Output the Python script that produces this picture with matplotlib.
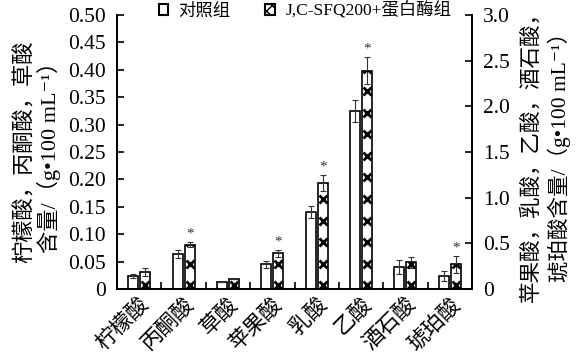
import matplotlib.pyplot as plt
import matplotlib.transforms as mtransforms
import numpy as np
from matplotlib.patches import Patch
from matplotlib.ticker import MultipleLocator, FuncFormatter

plt.rcParams['font.family'] = ['Liberation Serif', 'Noto Sans CJK SC', 'DejaVu Sans']

categories = ['柠檬酸', '丙酮酸', '草酸', '苹果酸', '乳酸', '乙酸', '酒石酸', '琥珀酸']

# left axis acids (g/100 mL)
left_ctrl = [0.024, 0.064, 0.013]
left_ctrl_err = [0.004, 0.008, 0.0]
left_trt = [0.031, 0.081, 0.019]
left_trt_err = [0.008, 0.004, 0.0]
left_star = [False, True, False]

# right axis acids (g/100 mL)
right_ctrl = [0.27, 0.84, 1.95, 0.24, 0.145]
right_ctrl_err = [0.036, 0.065, 0.12, 0.08, 0.055]
right_trt = [0.39, 1.16, 2.39, 0.29, 0.27]
right_trt_err = [0.036, 0.09, 0.15, 0.055, 0.09]
right_star = [True, True, True, False, True]

fig = plt.figure(figsize=(5.81, 3.63), dpi=100)
ax = fig.add_axes([0.2014, 0.2039, 0.611, 0.7548])
ax2 = ax.twinx()

w = 0.225
off = 0.135
x_left = np.arange(3)
x_right = np.arange(3, 8)
err_kw = dict(ecolor='#333333', elinewidth=0.8, capsize=2.5, capthick=0.8)
ax.set_ylim(0, 0.5)
ax2.set_ylim(0, 3.0)


def cross_fill(a, bar, ymax):
    # small crosses repeated up the bar, like the printed pattern
    px = ymax / 275.0
    levels = np.arange(3.5, 280, 21.7) * px
    h = bar.get_height()
    levels = levels[levels < h + 3 * px]
    xc = bar.get_x() + bar.get_width() / 2
    ln, = a.plot(np.full(len(levels), xc), levels, linestyle='none', marker='x',
                 markersize=5.5, mew=2.0, color='black', zorder=3)
    ln.set_clip_path(bar)


def draw(a, x, ctrl, ce, trt, te, star, ymax):
    a.bar(x - off, ctrl, w, color='white', edgecolor='black', linewidth=1.2,
          yerr=ce, error_kw=err_kw, zorder=2)
    bars = a.bar(x + off, trt, w, color='white', edgecolor='black', linewidth=1.2,
                 yerr=te, error_kw=err_kw, zorder=2)
    for b in bars:
        cross_fill(a, b, ymax)
    for xi, v, e, s in zip(x, trt, te, star):
        if s:
            a.text(xi + off, v + e + ymax * 0.006, '*', ha='center', va='bottom',
                   fontsize=11, color='#333333')


draw(ax, x_left, left_ctrl, left_ctrl_err, left_trt, left_trt_err, left_star, 0.5)
draw(ax2, x_right, right_ctrl, right_ctrl_err, right_trt, right_trt_err, right_star, 3.0)

ax.set_xlim(-0.5, 7.5)

ax.yaxis.set_major_locator(MultipleLocator(0.05))
ax.yaxis.set_major_formatter(FuncFormatter(lambda v, p: '0' if abs(v) < 1e-9 else f'{v:.2f}'))
ax2.yaxis.set_major_locator(MultipleLocator(0.5))
ax2.yaxis.set_major_formatter(FuncFormatter(lambda v, p: '0' if abs(v) < 1e-9 else f'{v:.1f}'))

ax.set_xticks(np.arange(8))
ax.set_xticklabels(categories, rotation=45, ha='right', rotation_mode='anchor',
                   fontsize=15.5)
shift = mtransforms.ScaledTranslation(7 / 72, 0, fig.dpi_scale_trans)
for lab in ax.get_xticklabels():
    lab.set_transform(lab.get_transform() + shift)
ax.set_xticks(np.arange(0.5, 7.5, 1), minor=True)
ax.tick_params(axis='x', which='major', length=0, pad=4)
ax.tick_params(axis='x', which='minor', direction='in', length=5, width=1.2)
ax.tick_params(axis='y', direction='in', length=5, width=1.2, labelsize=15.5, pad=8)
ax2.tick_params(axis='y', direction='in', length=5, width=1.2, labelsize=15.5, pad=8)

for a in (ax, ax2):
    a.spines['top'].set_visible(False)
    for s in ('left', 'right', 'bottom'):
        a.spines[s].set_linewidth(1.3)

ax.set_ylabel('柠檬酸，丙酮酸，草酸\n含量/（g•100 mL⁻¹）', fontsize=16,
              linespacing=1.05, labelpad=5)
ax2.set_ylabel('苹果酸，乳酸，乙酸，酒石酸，\n琥珀酸含量/（g•100 mL⁻¹）', fontsize=15.5,
               linespacing=1.3, rotation=90, labelpad=8)

handles = [Patch(facecolor='white', edgecolor='black', linewidth=1.5),
           Patch(facecolor='white', edgecolor='black', linewidth=1.5, hatch='xxx')]
fig.legend(handles, ['对照组', 'J,C-SFQ200+蛋白酶组'], loc='center',
           bbox_to_anchor=(0.525, 0.970), ncol=2, frameon=False, fontsize=12.5,
           handlelength=0.55, handleheight=0.55, handletextpad=0.6, columnspacing=2.0)

fig.savefig('out.png', dpi=100)
